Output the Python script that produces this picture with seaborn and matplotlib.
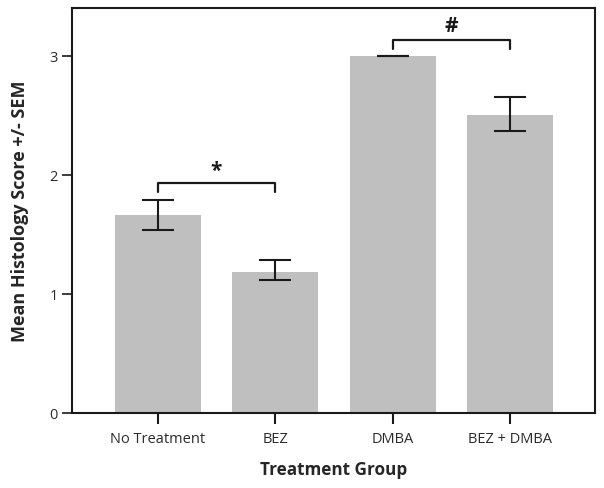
import numpy as np
import pandas as pd
import seaborn as sns
import matplotlib.pyplot as plt

# data
groups = ["No Treatment", "BEZ", "DMBA", "BEZ + DMBA"]
means = [1.66, 1.185, 3.0, 2.50]
err_low = [1.54, 1.115, 3.0, 2.37]
err_high = [1.785, 1.285, 3.0, 2.655]

sns.set_style("ticks")
plt.rcParams['font.family'] = ['Open Sans', 'DejaVu Sans']

df = pd.DataFrame({"group": groups, "score": means})

fig = plt.figure(figsize=(6.04, 4.89), dpi=100)
ax = fig.add_axes([0.1192, 0.1534, 0.8658, 0.8282])

sns.barplot(data=df, x="group", y="score", color="#bfbfbf", width=0.73,
            saturation=1, errorbar=None, linewidth=0, ax=ax)

x = np.arange(len(groups))
yerr = [np.array(means) - np.array(err_low), np.array(err_high) - np.array(means)]
ax.errorbar(x, means, yerr=yerr, fmt="none", ecolor="#1a1a1a",
            elinewidth=1.5, capsize=11.5, capthick=1.5)

# significance brackets
def bracket(x1, x2, y, h, label, ly):
    ax.plot([x1, x1, x2, x2], [y - h, y, y, y - h], color="#1a1a1a", lw=1.6)
    ax.text((x1 + x2) / 2, ly, label, ha="center", va="center",
            fontsize=15, fontweight="bold", color="#1a1a1a")

bracket(0, 1, 1.935, 0.08, "*", 2.04)
bracket(2, 3, 3.135, 0.08, "#", 3.255)

ax.set_xlim(-0.73, 3.72)
ax.set_ylim(0, 3.4)
ax.set_yticks([0, 1, 2, 3])
ax.set_xlabel("Treatment Group", fontsize=12.3, fontweight="bold", labelpad=10)
ax.set_ylabel("Mean Histology Score +/- SEM", fontsize=13, fontweight="bold", labelpad=15)

for s in ax.spines.values():
    s.set_visible(True)
    s.set_linewidth(1.5)
    s.set_color("#1a1a1a")
ax.tick_params(axis="x", length=8, width=1.5, labelsize=10.5, color="#1a1a1a", pad=5)
ax.tick_params(axis="y", length=7, width=1.2, labelsize=10.5, color="#1a1a1a", pad=3)
for lab in ax.get_xticklabels() + ax.get_yticklabels():
    lab.set_color("#2b2b2b")

plt.savefig("out.png", dpi=100)
